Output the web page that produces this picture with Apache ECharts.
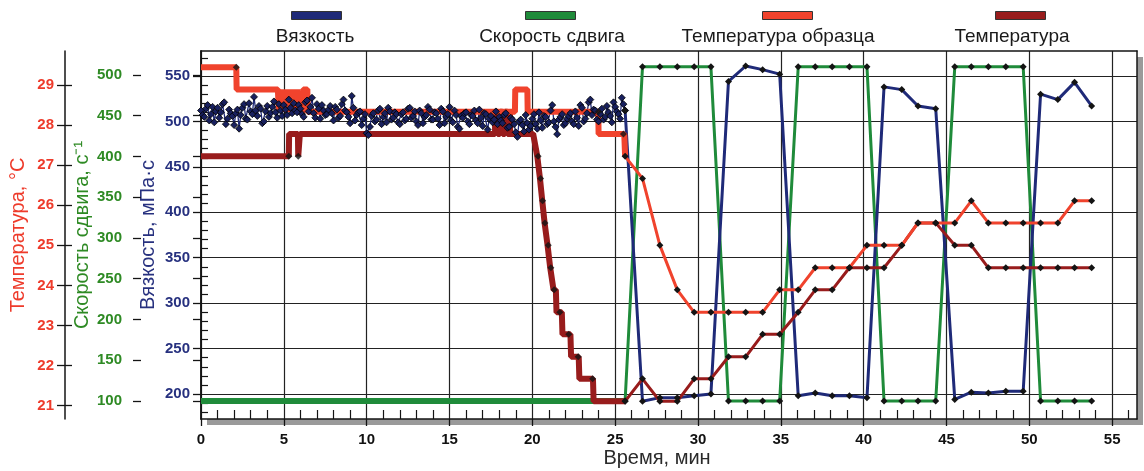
<!DOCTYPE html>
<html><head><meta charset="utf-8">
<script src="https://cdn.jsdelivr.net/npm/echarts@6/dist/echarts.min.js"></script>
<style>html,body{margin:0;padding:0;background:#fff}#c{width:1144px;height:471px}</style>
</head><body><div id="c"></div>
<script>
// ---------- tick labels ----------
const X_TICKS = [0, 5, 10, 15, 20, 25, 30, 35, 40, 45, 50, 55];
const X_MINOR = [1,2,3,4,6,7,8,9,11,12,13,14,16,17,18,19,21,22,23,24,26,27,28,29,31,32,33,34,36,37,38,39,41,42,43,44,46,47,48,49,51,52,53,54,56];
const VISC_TICKS = [200, 250, 300, 350, 400, 450, 500, 550];
const VISC_MINOR = [180,190,210,220,230,240,260,270,280,290,310,320,330,340,360,370,380,390,410,420,430,440,460,470,480,490,510,520,530,540,560,570];
const SHEAR_TICKS = [100, 150, 200, 250, 300, 350, 400, 450, 500];
const TEMP_TICKS = [21, 22, 23, 24, 25, 26, 27, 28, 29];

// ---------- series names ----------
const NAMES = ['Вязкость', 'Скорость сдвига', 'Температура образца', 'Температура'];

// ---------- dense part (0 … 25.5 min, one reading every 0.1 min) ----------
// readings at 0.0, 0.2, 0.4 … 25.4 min
const VISC_DENSE_A = [
  512,505,518,508,499,515,510,521,503,509,
  496,513,507,519,502,511,527,506,514,500,
  517,509,522,504,512,518,507,515,520,510,
  514,505,523,516,509,519,503,512,508,517,
  501,513,506,524,510,498,515,507,511,503,
  487,494,509,502,514,505,499,511,504,508,
  497,510,503,515,506,500,512,498,507,513,
  502,509,496,511,505,516,499,507,492,504,
  510,497,506,501,513,495,508,503,499,511,
  505,498,509,494,502,488,500,496,507,491,
  503,497,510,493,505,499,518,494,502,508,
  498,506,500,511,495,515,503,521,507,512,
  500,514,505,510,499,516,508,526
];
// readings at 0.1, 0.3, 0.5 … 25.5 min
const VISC_DENSE_B = [
  507,514,501,516,511,504,519,497,513,506,
  509,492,515,503,520,508,512,517,498,511,
  505,516,510,519,506,513,524,509,512,518,
  508,521,511,526,504,514,518,507,513,509,
  516,504,519,512,505,528,501,510,496,508,
  485,506,500,512,497,509,515,502,510,499,
  508,501,514,504,511,496,509,505,516,502,
  510,503,514,498,508,501,512,494,506,509,
  500,507,512,498,504,509,491,506,502,497,
  501,507,493,504,497,483,502,489,498,495,
  508,492,501,506,497,512,500,486,505,496,
  503,509,497,504,518,500,509,524,513,502,
  508,502,517,506,521,511,503,519
];
const DENSE_T0 = 0, DENSE_DT = 0.2, DENSE_HALF = 0.1;

const SHEAR_DENSE = [[0, 100], [25.6, 100]];
const SAMPLE_DENSE = [
  [0,29.44],[2.13,29.44],[2.15,28.89],[4.64,28.89],
  [4.7,28.33],[4.8,28.89],[4.9,28.33],[5.0,28.89],[5.1,28.33],[5.2,28.89],[5.3,28.33],
  [5.4,28.89],[5.5,28.33],[5.6,28.89],[5.7,28.33],[5.8,28.89],[5.85,28.33],
  [6.15,28.33],[6.17,28.89],[6.42,28.89],[6.44,28.33],
  [18.95,28.33],[18.97,28.89],[19.7,28.89],[19.72,28.33],
  [23.98,28.33],[24.0,27.78],[25.55,27.78]
];
const SAMPLE_DENSE_MARKS = [[2.13,29.44],[23.98,28.33],[25.5,27.78]];
const TEMP_DENSE = [
  [0,27.22],[5.3,27.22],[5.32,27.78],[5.85,27.78],[5.87,27.22],[5.95,27.22],[5.97,27.78],
  [17.75,27.78],[17.75,28.33],[17.9,28.33],[17.9,27.78],[18.05,27.78],[18.05,28.33],
  [18.2,28.33],[18.2,27.78],[18.35,27.78],[18.35,28.33],[18.5,28.33],[18.5,27.78],
  [18.65,27.78],[18.65,28.33],[18.66,27.78],
  [20.05,27.78],[20.3,27.22],[20.38,27.22],[20.46,26.67],[20.52,26.67],[20.6,26.11],
  [20.66,26.11],[20.74,25.56],[20.8,25.56],[20.92,25.0],[21.0,25.0],[21.08,24.44],
  [21.16,24.44],[21.28,23.89],[21.42,23.89],[21.46,23.33],[21.78,23.33],[21.82,22.78],
  [22.3,22.78],[22.34,22.22],[22.8,22.22],[22.84,21.67],[23.66,21.67],[23.7,21.11],
  [25.6,21.11]
];
const TEMP_DENSE_MARKS = [[5.3,27.22],[5.87,27.22],[20.35,27.22],[20.5,26.67],[20.62,26.11],
  [20.76,25.56],[20.96,25.0],[21.12,24.44],[21.32,23.89],[21.66,23.33],[22.2,22.78],
  [22.77,22.22],[23.64,21.67]];

// ---------- sparse part (one reading per step, from 25.6 min) ----------
const SPARSE_T = [25.6,26.65,27.7,28.75,29.77,30.78,31.84,32.88,33.9,34.93,36.05,37.08,38.1,39.14,
  40.2,41.23,42.3,43.28,44.35,45.5,46.5,47.53,48.58,49.63,50.68,51.72,52.73,53.76];
const VISC_S = [512,192,196,196,198,200,544,561,557,552,198,201,198,198,196,538,535,517,514,
  194,202,201,203,203,530,524,543,517];
const SHEAR_S = [100,510,510,510,510,510,100,100,100,100,510,510,510,510,510,100,100,100,100,
  510,510,510,510,510,100,100,100,100];
const SAMPLE_S = [27.22,26.67,25.0,23.89,23.33,23.33,23.33,23.33,23.33,23.89,23.89,24.44,24.44,
  24.44,25.0,25.0,25.0,25.56,25.56,25.56,26.11,25.56,25.56,25.56,25.56,25.56,26.11,26.11];
const TEMP_S = [21.11,21.67,21.11,21.11,21.67,21.67,22.22,22.22,22.78,22.78,23.33,23.89,23.89,
  24.44,24.44,24.44,25.0,25.56,25.56,25.0,25.0,24.44,24.44,24.44,24.44,24.44,24.44,24.44];

// ---------- styles ----------
const FONT = "'Liberation Sans', Arial, Helvetica, sans-serif";
const C_VISC = '#1f2a78', C_SHEAR = '#1f8b3a', C_SAMPLE = '#f0432d', C_TEMP = '#981c1c';
const T_VISC = '#27317f', T_SHEAR = '#2e8a24', T_TEMP = '#ee3b2b';
const BLACK = '#141414';

const pairs = (ts, vs) => ts.map((t, i) => [t, vs[i]]);
const denseVisc = [];
VISC_DENSE_A.forEach((v, i) => {
  const t = DENSE_T0 + i * DENSE_DT;
  denseVisc.push([+t.toFixed(2), v]);
  if (i < VISC_DENSE_B.length) denseVisc.push([+(t + DENSE_HALF).toFixed(2), VISC_DENSE_B[i]]);
});
denseVisc.push([SPARSE_T[0], VISC_S[0]]);

function mainY(o) {
  return Object.assign({
    type: 'value', position: 'left', nameLocation: 'middle', nameRotate: 90, nameMoveOverlap: false,
    axisLine: { show: true, lineStyle: { color: BLACK, width: 1.5 } },
    splitLine: { show: false }
  }, o);
}
function innerY(o) {
  return Object.assign({
    type: 'value', position: 'left',
    axisLine: { show: false }, axisLabel: { show: false }, splitLine: { show: false }
  }, o);
}
const lblStyle = (color) => ({ color, fontWeight: 'bold', fontSize: 15, fontFamily: FONT, margin: 11 });

const sparseLine = (name, yi, data, color) => ({
  name, type: 'line', yAxisIndex: yi, data, symbol: 'diamond', symbolSize: 7,
  lineStyle: { color, width: 3 }, itemStyle: { color: BLACK }, z: 3
});
const denseLine = (name, yi, data, color) => ({
  name, type: 'line', yAxisIndex: yi, data, symbol: 'none',
  lineStyle: { color, width: 6 }, itemStyle: { color }, z: 3
});
const marks = (name, yi, data) => ({
  name, type: 'scatter', yAxisIndex: yi, data, symbol: 'diamond', symbolSize: 7,
  itemStyle: { color: BLACK }, z: 4
});

const LEGEND_X = [291, 525, 762, 995];
const LEGEND_TXT_X = [315, 552, 778, 1012];
const LEGEND_COLORS = [C_VISC, C_SHEAR, C_SAMPLE, C_TEMP];

const chart = echarts.init(document.getElementById('c'), null, { renderer: 'canvas' });
chart.setOption({
  animation: false,
  backgroundColor: '#fff',
  grid: {
    left: 201, top: 51, right: 7, bottom: 52, show: true, outerBoundsMode: 'none',
    backgroundColor: '#fff', borderWidth: 0, borderColor: 'transparent',
    shadowColor: '#9a9a9a', shadowOffsetX: 6, shadowOffsetY: 6, shadowBlur: 0
  },
  legend: NAMES.map((n, i) => ({
    data: [{ name: n, itemStyle: { color: LEGEND_COLORS[i], borderColor: '#333', borderWidth: 1 } }],
    icon: 'rect', itemWidth: 50, itemHeight: 8, left: LEGEND_X[i], top: 11,
    formatter: () => '', selectedMode: false, padding: 0
  })),
  graphic: NAMES.map((n, i) => ({
    type: 'text', x: LEGEND_TXT_X[i], y: 37,
    style: { text: n, font: '19px ' + FONT, fill: '#1a1a1a', align: 'center', verticalAlign: 'middle',
             textAlign: 'center', textVerticalAlign: 'middle' }
  })),
  xAxis: [
    {
      type: 'value', position: 'bottom', min: 0, max: 56.5, interval: 5,
      name: 'Время, мин', nameLocation: 'middle', nameGap: 29, nameMoveOverlap: false,
      nameTextStyle: { fontSize: 20, fontFamily: FONT, color: '#2a2a2a', padding: [0, 24, 0, 0] },
      axisLine: { show: true, lineStyle: { color: BLACK, width: 1.5 } },
      axisTick: { show: true, inside: false, length: 7, customValues: X_TICKS, lineStyle: { color: BLACK, width: 1.3 } },
      axisLabel: Object.assign({ customValues: X_TICKS }, lblStyle('#111'), { margin: 13 }),
      splitLine: { show: true, lineStyle: { color: '#222', width: 1.2 } }
    },
    {
      type: 'value', position: 'bottom', min: 0, max: 56.5,
      axisLine: { show: false }, axisLabel: { show: false }, splitLine: { show: false },
      axisTick: { show: true, inside: true, length: 9, customValues: X_MINOR, lineStyle: { color: BLACK, width: 1.2 } }
    },
    {
      type: 'value', position: 'top', min: 0, max: 56.5,
      axisLine: { show: true, lineStyle: { color: BLACK, width: 1.5 } },
      axisTick: { show: false }, axisLabel: { show: false }, splitLine: { show: false }
    }
  ],
  yAxis: [
    mainY({
      offset: 0, min: 172.5, max: 577.5, splitNumber: 8,
      name: 'Вязкость, мПа·с', nameGap: 43,
      nameTextStyle: { color: T_VISC, fontSize: 20, fontFamily: FONT },
      axisTick: { show: true, length: 8, customValues: VISC_TICKS, lineStyle: { color: BLACK, width: 1.3 } },
      axisLabel: Object.assign({ customValues: VISC_TICKS }, lblStyle(T_VISC)),
      splitLine: { show: true, lineStyle: { color: '#222', width: 1.2 } }
    }),
    innerY({
      offset: 0, min: 172.5, max: 577.5,
      axisTick: { show: true, inside: true, length: 7, customValues: VISC_MINOR, lineStyle: { color: BLACK, width: 1.2 } }
    }),
    mainY({
      offset: 68, min: 77.9, max: 529.4,
      name: 'Скорость сдвига, с⁻¹', nameGap: 41,
      nameTextStyle: { color: T_SHEAR, fontSize: 20, fontFamily: FONT },
      axisTick: { show: true, length: 8, customValues: SHEAR_TICKS, lineStyle: { color: BLACK, width: 1.3 } },
      axisLabel: Object.assign({ customValues: SHEAR_TICKS }, lblStyle(T_SHEAR))
    }),
    innerY({
      offset: 68, min: 77.9, max: 529.4,
      axisTick: { show: true, inside: true, length: 8, customValues: SHEAR_TICKS, lineStyle: { color: BLACK, width: 1.3 } }
    }),
    mainY({
      offset: 136, min: 20.668, max: 29.848,
      name: 'Температура, °C', nameGap: 37,
      nameTextStyle: { color: T_TEMP, fontSize: 20, fontFamily: FONT },
      axisTick: { show: true, length: 8, customValues: TEMP_TICKS, lineStyle: { color: BLACK, width: 1.3 } },
      axisLabel: Object.assign({ customValues: TEMP_TICKS }, lblStyle(T_TEMP))
    }),
    innerY({
      offset: 136, min: 20.668, max: 29.848,
      axisTick: { show: true, inside: true, length: 7, customValues: TEMP_TICKS, lineStyle: { color: BLACK, width: 1.3 } }
    }),
    {
      type: 'value', position: 'right', min: 0, max: 1,
      axisLine: { show: true, lineStyle: { color: BLACK, width: 1.5 } },
      axisTick: { show: false }, axisLabel: { show: false }, splitLine: { show: false }
    }
  ],
  series: [
    denseLine(NAMES[1], 2, SHEAR_DENSE, C_SHEAR),
    sparseLine(NAMES[1], 2, pairs(SPARSE_T, SHEAR_S), C_SHEAR),
    {
      name: NAMES[0], type: 'line', yAxisIndex: 0, data: denseVisc, symbol: 'diamond', symbolSize: 7,
      lineStyle: { color: C_VISC, width: 1.3 },
      itemStyle: { color: '#18205e', borderColor: '#000', borderWidth: 0.8 }, z: 3
    },
    sparseLine(NAMES[0], 0, pairs(SPARSE_T, VISC_S), C_VISC),
    denseLine(NAMES[3], 4, TEMP_DENSE, C_TEMP),
    marks(NAMES[3], 4, TEMP_DENSE_MARKS),
    sparseLine(NAMES[3], 4, pairs(SPARSE_T, TEMP_S), C_TEMP),
    denseLine(NAMES[2], 4, SAMPLE_DENSE.concat([[SPARSE_T[0], SAMPLE_S[0]]]), C_SAMPLE),
    marks(NAMES[2], 4, SAMPLE_DENSE_MARKS),
    sparseLine(NAMES[2], 4, pairs(SPARSE_T, SAMPLE_S), C_SAMPLE)
  ]
});
</script>
</body></html>
